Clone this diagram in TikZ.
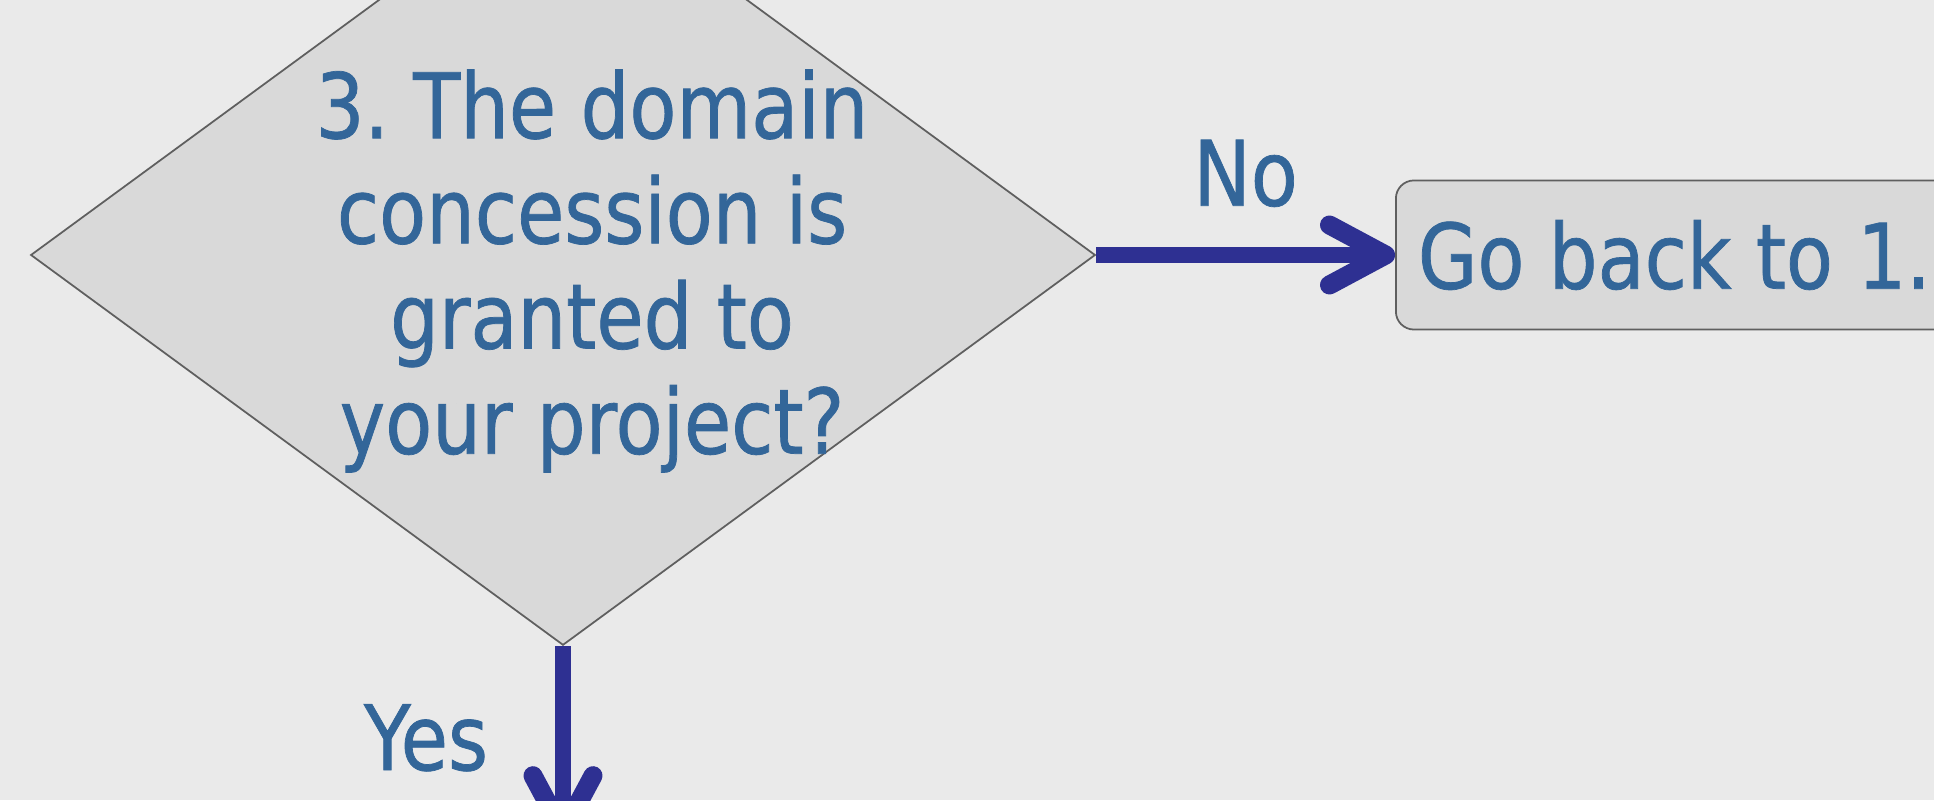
\documentclass[tikz,border=0pt]{standalone}
\usepackage{fontspec}
\setmainfont{DejaVu Sans}[FakeStretch=0.85, FakeBold=0.8]
\usepackage{xcolor}
\usetikzlibrary{shapes.geometric,arrows.meta,positioning}
\definecolor{bgcol}{HTML}{EAEAEA}
\definecolor{shapecol}{HTML}{D9D9D9}
\definecolor{edgecol}{HTML}{5F5F5F}
\definecolor{textcol}{HTML}{336699}
\definecolor{arrowcol}{HTML}{2E3092}
\tikzstyle{decision} = [diamond, draw=edgecol, fill=shapecol, line width=0.5pt, inner sep=0pt, minimum width=10.64cm, minimum height=7.8cm]
\tikzstyle{qtext} = [align=center, text=textcol, inner sep=0pt, font=\fontsize{25.7pt}{29.9pt}\selectfont]
\tikzstyle{outcome} = [rectangle, rounded corners=0.18cm, draw=edgecol, fill=shapecol, line width=0.5pt, anchor=west, minimum height=1.49cm, inner xsep=0.22cm, text=textcol, font=\fontsize{25.7pt}{29.9pt}\selectfont]
\tikzstyle{answer} = [text=textcol, inner sep=0pt, font=\fontsize{25.7pt}{29.9pt}\selectfont]
\tikzstyle{flow} = [draw=arrowcol, line width=0.16cm, -{Straight Barb[length=0.56cm, width=0.6cm, line width=0.19cm, round]}]

\begin{document}
\frenchspacing
\begin{tikzpicture}[x=0.01cm,y=0.01cm]
    \useasboundingbox (0,0) rectangle (1934,800);
    \clip (0,0) rectangle (1934,800);
    \fill[bgcol] (0,0) rectangle (1934,800);

    \node[decision] (q) at (563,545) {};
    \node[qtext] (qlabel) at ([xshift=0.29cm,yshift=-0.16cm]q.center) {3. The domain\\concession is\\granted to\\your project?};

    \node[outcome] (back) at (1395,545) {Go back to 1.};
    \draw[flow] (q.east) -- node[answer, above=0.40cm] (no) {No} (back.west);

    \coordinate (down) at ([yshift=-1.95cm]q.south);
    \draw[flow] (q.south) -- node[answer, pos=0.47, left=0.67cm] (yes) {Yes} (down);
\end{tikzpicture}
\end{document}
